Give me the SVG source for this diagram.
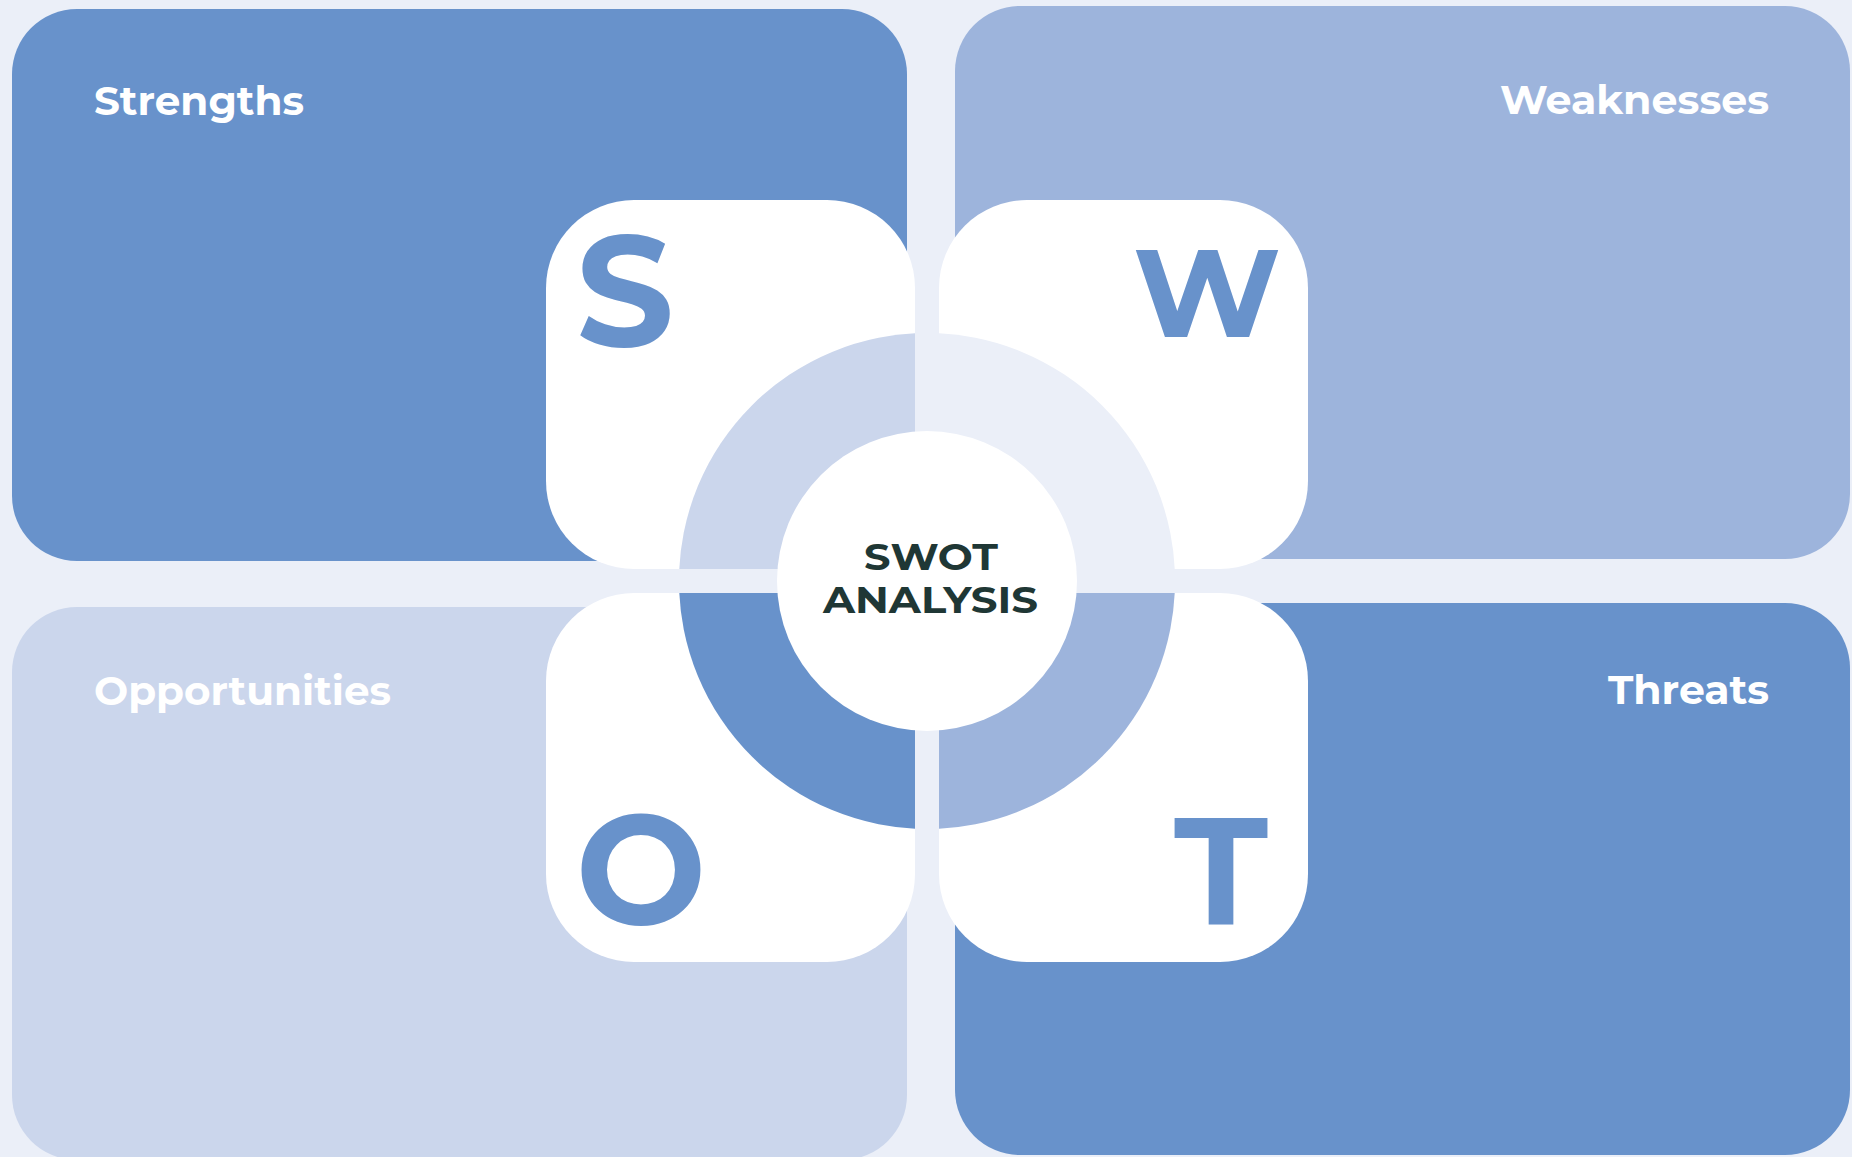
<svg xmlns="http://www.w3.org/2000/svg" width="1852" height="1157" viewBox="0 0 1852 1157">
  <style>
    .bg { fill: #EBEFF8; }
    .dark { fill: #6892CB; }
    .mid { fill: #9DB4DC; }
    .light { fill: #CBD6EC; }
    .card { fill: #FFFFFF; }
    .label { font-family: "Montserrat", "Liberation Sans", Arial, sans-serif; font-weight: 700; font-size: 40px; fill: #FFFFFF; }
    .letter { font-family: "Montserrat", "Liberation Sans", Arial, sans-serif; font-weight: 700; fill: #6892CB; text-anchor: middle; }
    .center { font-family: "Montserrat", "Liberation Sans", Arial, sans-serif; font-weight: 700; font-size: 37px; fill: #1F3735; }
  </style>
  <defs>
    <clipPath id="qTL"><rect x="546" y="200" width="369" height="369"/></clipPath>
    <clipPath id="qTR"><rect x="939" y="200" width="369" height="369"/></clipPath>
    <clipPath id="qBL"><rect x="546" y="593" width="369" height="369"/></clipPath>
    <clipPath id="qBR"><rect x="939" y="593" width="369" height="369"/></clipPath>
  </defs>
  <rect class="bg" x="0" y="0" width="1852" height="1157"/>

  <g id="panel-strengths">
    <rect class="dark" x="12" y="9" width="895" height="552" rx="65" ry="65"/>
    <text class="label" x="94" y="115" textLength="210" lengthAdjust="spacingAndGlyphs">Strengths</text>
  </g>
  <g id="panel-weaknesses">
    <rect class="mid" x="955" y="6" width="895" height="553" rx="65" ry="65"/>
    <text class="label" x="1500" y="114" textLength="269" lengthAdjust="spacingAndGlyphs">Weaknesses</text>
  </g>
  <g id="panel-opportunities">
    <rect class="light" x="12" y="607" width="895" height="553" rx="65" ry="65"/>
    <text class="label" x="94" y="705" textLength="297" lengthAdjust="spacingAndGlyphs">Opportunities</text>
  </g>
  <g id="panel-threats">
    <rect class="dark" x="955" y="603" width="895" height="552" rx="65" ry="65"/>
    <text class="label" x="1608" y="704" textLength="161" lengthAdjust="spacingAndGlyphs">Threats</text>
  </g>

  <g id="card-s">
    <rect class="card" x="546" y="200" width="369" height="369" rx="88" ry="88"/>
    <circle class="light" cx="927" cy="581" r="248" clip-path="url(#qTL)"/>
    <text class="letter" x="625" y="346" font-size="157" textLength="98" lengthAdjust="spacingAndGlyphs">S</text>
  </g>
  <g id="card-w">
    <rect class="card" x="939" y="200" width="369" height="369" rx="88" ry="88"/>
    <circle class="bg" cx="927" cy="581" r="248" clip-path="url(#qTR)"/>
    <text class="letter" x="1207" y="337" font-size="124" textLength="148" lengthAdjust="spacingAndGlyphs">W</text>
  </g>
  <g id="card-o">
    <rect class="card" x="546" y="593" width="369" height="369" rx="88" ry="88"/>
    <circle class="dark" cx="927" cy="581" r="248" clip-path="url(#qBL)"/>
    <text class="letter" x="641" y="924" font-size="155" textLength="131" lengthAdjust="spacingAndGlyphs">O</text>
  </g>
  <g id="card-t">
    <rect class="card" x="939" y="593" width="369" height="369" rx="88" ry="88"/>
    <circle class="mid" cx="927" cy="581" r="248" clip-path="url(#qBR)"/>
    <text class="letter" x="1221" y="924" font-size="152" textLength="94" lengthAdjust="spacingAndGlyphs">T</text>
  </g>

  <g id="center">
    <circle class="card" cx="927" cy="581" r="150"/>
    <text class="center" x="864" y="570" textLength="134" lengthAdjust="spacingAndGlyphs">SWOT</text>
    <text class="center" x="823" y="613" textLength="215" lengthAdjust="spacingAndGlyphs">ANALYSIS</text>
  </g>

  <g id="connectors"></g>
</svg>
